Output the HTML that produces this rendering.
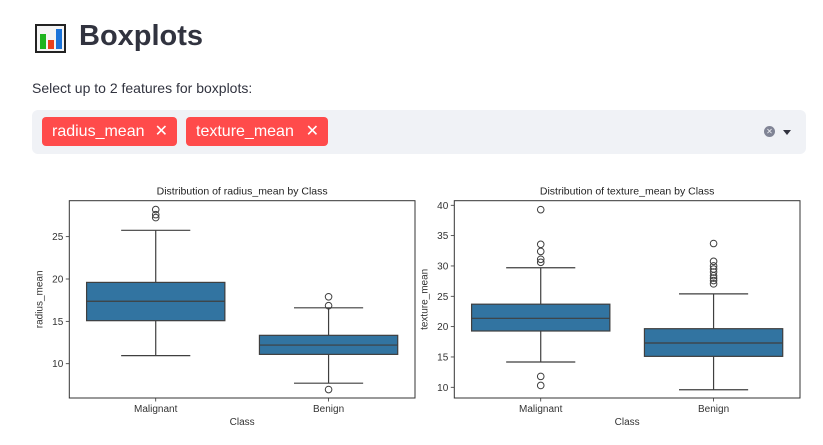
<!DOCTYPE html>
<html><head><meta charset="utf-8">
<style>
body{margin:0;width:823px;height:445px;background:#fff;font-family:"Liberation Sans",sans-serif;overflow:hidden;position:relative}
.abs{position:absolute}
.tag{position:absolute;top:117px;height:29px;background:#ff4b4b;border-radius:4px;color:#fff;font-size:16px;line-height:29px;padding-left:10px;box-sizing:border-box}
.tag span{position:absolute;right:9px;top:0}
</style></head><body>
<div class="abs" style="left:35px;top:24px;width:31px;height:29px;border:2px solid #222;box-sizing:border-box;background:#f4f4f4">
  <div class="abs" style="left:3px;bottom:2px;width:6px;height:15px;background:#1db31d"></div>
  <div class="abs" style="left:11px;bottom:2px;width:6px;height:9px;background:#e8401c"></div>
  <div class="abs" style="left:19px;bottom:2px;width:6px;height:20px;background:#1a73d9"></div>
</div>
<div class="abs" style="left:79px;top:20px;font-size:29px;font-weight:bold;color:#31333f">Boxplots</div>
<div class="abs" style="left:32px;top:80px;font-size:14px;color:#31333f">Select up to 2 features for boxplots:</div>
<div class="abs" style="left:32px;top:110px;width:774px;height:44px;background:#f0f2f6;border-radius:6px"></div>
<div class="tag" style="left:42px;width:135px">radius_mean<span>✕</span></div>
<div class="tag" style="left:186px;width:142px">texture_mean<span>✕</span></div>
<div class="abs" style="left:764px;top:126px;width:11px;height:11px;border-radius:50%;background:#808495;color:#f0f2f6;font-size:8px;line-height:11px;text-align:center">✕</div>
<div class="abs" style="left:783px;top:130px;width:0;height:0;border-left:4px solid transparent;border-right:4px solid transparent;border-top:5px solid #31333f"></div>
<svg class="abs" style="left:0;top:0" width="823" height="445" id="svg"></svg>
<script>
const categories=["Malignant","Benign"];
const radiusStats=[[10.95,15.08,17.37,19.6,25.75],[7.7,11.1,12.2,13.35,16.6]];
const radiusOutliers=[[28.2,27.6,27.25],[17.9,16.85,6.95]];
const radiusTicks=[10,15,20,25];
const textureStats=[[14.17,19.28,21.37,23.7,29.7],[9.6,15.1,17.3,19.66,25.4]];
const textureOutliers=[[39.28,33.57,32.4,31.1,30.6,11.8,10.3],[33.7,30.76,30.0,29.5,29.0,28.4,28.0,27.6,27.05]];
const textureTicks=[10,15,20,25,30,35,40];
const NS="http://www.w3.org/2000/svg";
const svg=document.getElementById('svg');
function mk(t,a,txt){const e=document.createElementNS(NS,t);for(const k in a)e.setAttribute(k,a[k]);if(txt!==undefined)e.textContent=txt;svg.appendChild(e);return e;}
function panel(cfg){
  const {x0,x1,y0,y1,v0,pxPerUnit,vRef,stats,outliers,ticks,title,ylabel,key}=cfg;
  const y=v=>vRef-(v-v0)*pxPerUnit;
  const bw=(x1-x0)/2;
  const xc=i=>x0+bw*(i+0.5);
  const t=mk('text',{x:(x0+x1)/2,y:y0-6,'text-anchor':'middle','font-size':'10.5',fill:'#222'},title);
  
  ticks.forEach(v=>{
    const l=mk('line',{x1:x0-3.5,x2:x0,y1:y(v),y2:y(v),stroke:'#333','stroke-width':0.8});
    
    const tl=mk('text',{x:x0-6,y:y(v)+3.5,'text-anchor':'end','font-size':'10',fill:'#333'},String(v));
    
  });
  const yl=mk('text',{x:0,y:0,transform:`translate(${x0-27},${(y0+y1)/2}) rotate(-90)`,'text-anchor':'middle','font-size':'10',fill:'#333'},ylabel);
  
  categories.forEach((c,i)=>{
    const s=stats[i],cx=xc(i),hw=bw*0.4;
    const g='#3f3f3f';
    const w1=mk('line',{x1:cx,x2:cx,y1:y(s[0]),y2:y(s[1]),stroke:g,'stroke-width':1.2});
    
    const w2=mk('line',{x1:cx,x2:cx,y1:y(s[3]),y2:y(s[4]),stroke:g,'stroke-width':1.2});
    
    [s[0],s[4]].forEach(v=>{const cp=mk('line',{x1:cx-hw/2,x2:cx+hw/2,y1:y(v),y2:y(v),stroke:g,'stroke-width':1.2});
      });
    const b=mk('rect',{x:cx-hw,y:y(s[3]),width:2*hw,height:y(s[1])-y(s[3]),fill:'#3274a1',stroke:g,'stroke-width':1.2});
    
    const m=mk('line',{x1:cx-hw,x2:cx+hw,y1:y(s[2]),y2:y(s[2]),stroke:g,'stroke-width':1.2});
    
    outliers[i].forEach(v=>{const o=mk('circle',{cx:cx,cy:y(v),r:3.3,fill:'none',stroke:g,'stroke-width':1});
      });
    const tk=mk('line',{x1:cx,x2:cx,y1:y1,y2:y1+3.5,stroke:'#333','stroke-width':0.8});
    
    const xl=mk('text',{x:cx,y:y1+14,'text-anchor':'middle','font-size':'10',fill:'#333'},c);
    
  });
  const xt=mk('text',{x:(x0+x1)/2,y:y1+27,'text-anchor':'middle','font-size':'10',fill:'#333'},'Class');
  
  const fr=mk('rect',{x:x0,y:y0,width:x1-x0,height:y1-y0,fill:'none',stroke:'#333','stroke-width':1});
  
}
panel({x0:69.3,x1:415,y0:200.7,y1:398,v0:10,vRef:363.7,pxPerUnit:8.47,stats:radiusStats,outliers:radiusOutliers,ticks:radiusTicks,title:'Distribution of radius_mean by Class',ylabel:'radius_mean',key:'radius'});
panel({x0:454.3,x1:800,y0:200.7,y1:398,v0:10,vRef:387.3,pxPerUnit:6.067,stats:textureStats,outliers:textureOutliers,ticks:textureTicks,title:'Distribution of texture_mean by Class',ylabel:'texture_mean',key:'texture'});
</script>
</body></html>
